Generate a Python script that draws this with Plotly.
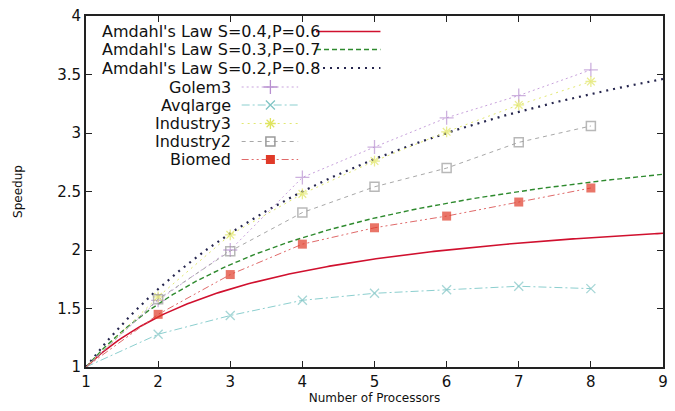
import numpy as np
import plotly.graph_objects as go

# ---------------- data ----------------
processors = [1, 2, 3, 4, 5, 6, 7, 8]
golem3 = [1.0, 1.57, 2.0, 2.62, 2.88, 3.13, 3.32, 3.54]
avqlarge = [1.0, 1.28, 1.44, 1.57, 1.63, 1.66, 1.69, 1.67]
industry3 = [1.0, 1.60, 2.13, 2.48, 2.76, 3.01, 3.24, 3.44]
industry2 = [1.0, 1.58, 1.99, 2.32, 2.54, 2.70, 2.92, 3.06]
biomed = [1.0, 1.45, 1.79, 2.05, 2.19, 2.29, 2.41, 2.53]

amdahl_S = [0.4, 0.3, 0.2]
amdahl_P = [0.6, 0.7, 0.8]
amdahl_names = ["Amdahl's Law S=0.4,P=0.6", "Amdahl's Law S=0.3,P=0.7", "Amdahl's Law S=0.2,P=0.8"]

x_ticks = [1, 2, 3, 4, 5, 6, 7, 8, 9]
y_ticks = [1, 1.5, 2, 2.5, 3, 3.5, 4]

# ---------------- styles ----------------
FONT = "DejaVu Sans"
amdahl_styles = [
    dict(color="#d0102e", width=1.6, dash="solid"),
    dict(color="#2e8a2e", width=1.4, dash="5px,3px"),
    dict(color="#26264e", width=2.2, dash="2px,5px"),
]
series = [
    ("Golem3", golem3, dict(color="#c8a2dc", width=1, dash="2px,3px"),
     dict(symbol="cross-thin-open", size=10, color="#b890d0", line=dict(width=1.3, color="#b890d0"))),
    ("Avqlarge", avqlarge, dict(color="#8ccfcf", width=1, dash="8px,3px,2px,3px"),
     dict(symbol="x-thin-open", size=9, color="#80c4c4", line=dict(width=1.3, color="#80c4c4"))),
    ("Industry3", industry3, dict(color="#e2e870", width=1, dash="2px,4px"),
     dict(symbol="asterisk-open", size=9, color="#dfe460", line=dict(width=1.3, color="#dfe460"))),
    ("Industry2", industry2, dict(color="#a8a8a8", width=1, dash="4px,4px"),
     dict(symbol="square-open", size=9, color="#9a9a9a", line=dict(width=1.5, color="#9a9a9a"))),
    ("Biomed", biomed, dict(color="#e06a6a", width=1, dash="7px,3px,2px,3px,2px,3px"),
     dict(symbol="square", size=9, color="#e03a28", line=dict(width=0, color="#e03a28"))),
]

fig = go.Figure()

# Amdahl curves from the law's parameters
n = np.linspace(1, 9, 200)
for S, P, name, st in zip(amdahl_S, amdahl_P, amdahl_names, amdahl_styles):
    fig.add_trace(go.Scatter(x=n, y=1.0 / (S + P / n), mode="lines", name=name,
                             line=st, showlegend=False, hoverinfo="skip"))

for name, vals, lst, mk in series:
    sizes = [0] + [mk["size"]] * (len(vals) - 1)
    m = dict(mk)
    m["size"] = sizes
    fig.add_trace(go.Scatter(x=processors, y=vals, mode="lines+markers", name=name,
                             line=lst, marker=m, showlegend=False))

# ---------------- gnuplot-style key (overlay axis in pixel units) ----------------
L, R, T, B = 86, 668, 16, 367
row_y = [31.5, 49.5, 68, 87, 105, 123.5, 141.5, 159.5]
annotations = []
for i, (name, st) in enumerate(zip(amdahl_names, amdahl_styles)):
    y = row_y[i]
    annotations.append(dict(x=100, y=y, xref="x2", yref="y2", text=name, showarrow=False,
                            xanchor="left", yanchor="middle",
                            font=dict(family=FONT, size=16, color="#111111")))
    fig.add_trace(go.Scatter(x=[318, 383], y=[y, y], xaxis="x2", yaxis="y2", mode="lines",
                             line=st, showlegend=False, hoverinfo="skip"))
for j, (name, vals, lst, mk) in enumerate(series):
    y = row_y[3 + j]
    annotations.append(dict(x=234, y=y, xref="x2", yref="y2", text=name, showarrow=False,
                            xanchor="right", yanchor="middle",
                            font=dict(family=FONT, size=16, color="#111111")))
    fig.add_trace(go.Scatter(x=[243, 300], y=[y, y], xaxis="x2", yaxis="y2", mode="lines",
                             line=lst, showlegend=False, hoverinfo="skip"))
    fig.add_trace(go.Scatter(x=[272], y=[y], xaxis="x2", yaxis="y2", mode="markers",
                             marker=mk, showlegend=False, hoverinfo="skip"))

fig.update_layout(
    width=675, height=411,
    margin=dict(l=L, r=675 - R, t=T, b=411 - B),
    paper_bgcolor="white", plot_bgcolor="white",
    showlegend=False,
    font=dict(family=FONT, size=14, color="#111111"),
    annotations=annotations,
    xaxis=dict(range=[1, 9], tickvals=x_ticks, ticktext=[str(v) for v in x_ticks],
               showgrid=False, zeroline=False, showline=True, linecolor="#222222", linewidth=1.8,
               mirror="allticks", ticks="inside", ticklen=6, tickcolor="#222222", tickwidth=1,
               tickfont=dict(family=FONT, size=15),
               title=dict(text="Number of Processors", font=dict(family=FONT, size=12), standoff=2)),
    yaxis=dict(range=[1, 4], tickvals=y_ticks, ticktext=[("%g" % v) for v in y_ticks],
               showgrid=False, zeroline=False, showline=True, linecolor="#222222", linewidth=1.8,
               mirror="allticks", ticks="inside", ticklen=6, tickcolor="#222222", tickwidth=1,
               tickfont=dict(family=FONT, size=15),
               title=dict(text="Speedup", font=dict(family=FONT, size=12), standoff=32)),
    xaxis2=dict(range=[L, R], overlaying="x", anchor="y2", visible=False, fixedrange=True),
    yaxis2=dict(range=[B, T], overlaying="y", anchor="x2", visible=False, fixedrange=True),
)

fig.write_html("out.html")
